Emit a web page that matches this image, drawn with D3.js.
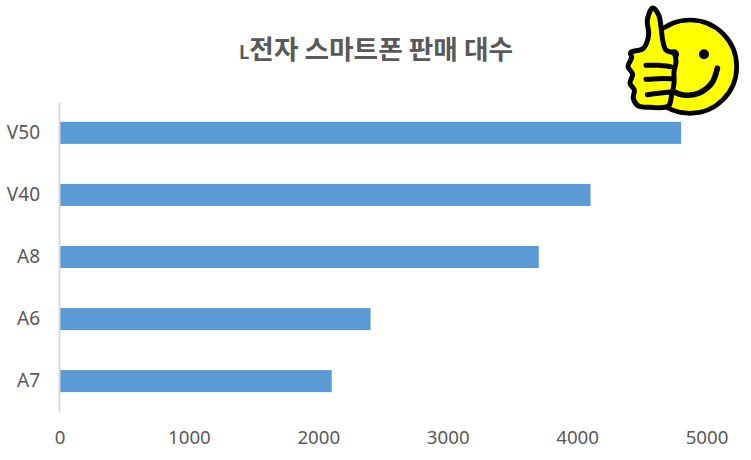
<!DOCTYPE html>
<html><head><meta charset="utf-8">
<script src="https://cdn.jsdelivr.net/npm/d3@7"></script>
<style>html,body{margin:0;padding:0;background:#fff}svg{display:block}</style>
</head><body><svg id="c" width="751" height="460"></svg>
<script>
const categories = ["V50","V40","A8","A6","A7"];
const sales = [4800,4100,3700,2400,2100];
const tickValues = [0,1000,2000,3000,4000,5000];
const titleLead = "L";
const titleText = "전자 스마트폰 판매 대수";

const svg = d3.select("#c");
const x = d3.scaleLinear().domain([0,5000]).range([59.5,706.5]);
const y = d3.scaleBand().domain(categories).range([102,412]).paddingInner(0.645).paddingOuter(0.32);
const FONT = "'Noto Sans','Noto Sans CJK KR',sans-serif";

const title = svg.append("text").attr("x",376).attr("y",59).attr("text-anchor","middle")
  .attr("font-family","'Noto Sans CJK KR',sans-serif").attr("font-weight",700).attr("font-size",26.7).attr("fill","#595959");
title.append("tspan").attr("font-size",18).text(titleLead);
title.append("tspan").text(titleText);

svg.append("g").selectAll("rect").data(sales).join("rect")
  .attr("x",x(0)+0.5).attr("y",(d,i)=>y(categories[i]))
  .attr("width",d=>x(d)-x(0)).attr("height",y.bandwidth()).attr("fill","#5B9BD5");

const yAxis = d3.axisLeft(y).tickSize(0).tickPadding(19);
const yg = svg.append("g").attr("transform",`translate(${x(0)-0.5},0)`).call(yAxis);
yg.select(".domain").attr("stroke","#D9D9D9").attr("stroke-width",2);
yg.selectAll("text").attr("font-family",FONT).attr("font-size",19).attr("fill","#595959");

const xAxis = d3.axisBottom(x).tickValues(tickValues).tickSize(0).tickPadding(0).tickFormat(d3.format("d"));
const xg = svg.append("g").attr("transform","translate(0,431)").call(xAxis);
xg.select(".domain").remove();
xg.selectAll("text").attr("font-family",FONT).attr("font-size",18.7).attr("fill","#595959");

// thumbs-up smiley
const em = svg.append("g").attr("transform","translate(600,0) scale(0.3333)");
const yellow = "#FFFF00";
em.append("circle").attr("cx",270).attr("cy",200).attr("r",140).attr("fill",yellow).attr("stroke","#000").attr("stroke-width",14);
em.append("circle").attr("cx",312).attr("cy",163).attr("r",15);
em.append("circle").attr("cx",222).attr("cy",163).attr("r",15);
const smooth = d3.line().curve(d3.curveCatmullRom.alpha(0.5));
const smile = [[352,205],[335,250],[295,280],[250,285],[215,272]];
em.append("path").attr("d",smooth(smile)).attr("fill","none").attr("stroke","#000").attr("stroke-width",17).attr("stroke-linecap","round");
const hand = [[158,24],[176,45],[183,80],[188,120],[198,150],[222,160],[228,185],[222,215],[222,250],[215,285],[205,318],[150,322],[115,318],[100,295],[103,270],[90,250],[98,222],[84,200],[95,172],[92,158],[130,145],[146,105],[142,60]];
em.append("path").attr("d",d3.line().curve(d3.curveCatmullRomClosed.alpha(0.5))(hand)).attr("fill",yellow).attr("stroke","#000").attr("stroke-width",15).attr("stroke-linejoin","round");
const fingerLines = [
  [[138,196],[175,196],[212,200]],
  [[138,238],[175,236],[212,236]],
  [[142,284],[175,280],[210,276]]
];
fingerLines.forEach(f=>em.append("path").attr("d",smooth(f)).attr("fill","none").attr("stroke","#000").attr("stroke-width",15).attr("stroke-linecap","round"));
</script></body></html>
